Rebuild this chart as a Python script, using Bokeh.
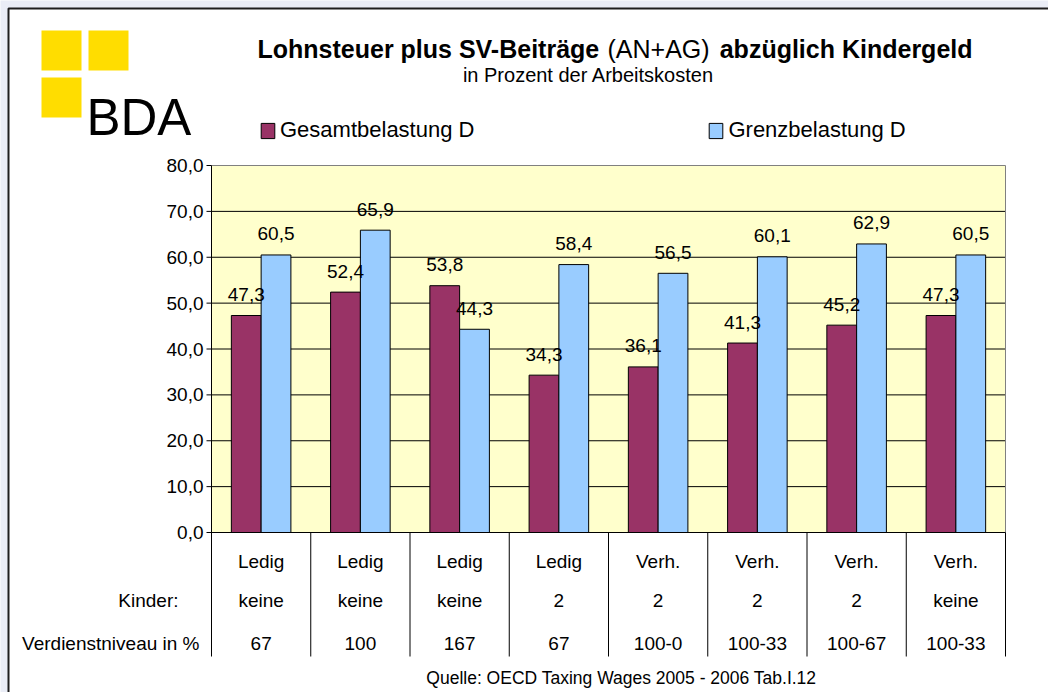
from bokeh.plotting import figure
from bokeh.models import ColumnDataSource, Label, Legend, LegendItem, Range1d
from bokeh.transform import dodge
from bokeh.core.properties import value
from bokeh.embed import file_html
from bokeh.resources import INLINE

# ---------------- data ----------------
status = ["Ledig", "Ledig", "Ledig", "Ledig", "Verh.", "Verh.", "Verh.", "Verh."]
kinder = ["keine", "keine", "keine", "2", "2", "2", "2", "keine"]
verdienst = ["67", "100", "167", "67", "100-0", "100-33", "100-67", "100-33"]
gesamt = [47.3, 52.4, 53.8, 34.3, 36.1, 41.3, 45.2, 47.3]
grenz = [60.5, 65.9, 44.3, 58.4, 56.5, 60.1, 62.9, 60.5]
series_names = ["Gesamtbelastung D", "Grenzbelastung D"]
y_ticks = [0, 10, 20, 30, 40, 50, 60, 70, 80]
y_tick_labels = ["0,0", "10,0", "20,0", "30,0", "40,0", "50,0", "60,0", "70,0", "80,0"]
row_headers = ["Kinder:", "Verdienstniveau in %"]
title_parts = ["Lohnsteuer plus SV-Beiträge", "(AN+AG)", "abzüglich Kindergeld"]
subtitle = "in Prozent der Arbeitskosten"
source_note = "Quelle: OECD Taxing Wages 2005 - 2006 Tab.I.12"
logo_text = "BDA"

# ---------------- layout ----------------
W, H = 1048, 692
PLOT_L, PLOT_R, PLOT_T, PLOT_B = 211, 1005, 165, 532   # page pixels of the value area
n = len(status)
ymax = y_ticks[-1]
SX = (PLOT_R - PLOT_L) / n          # px per category
SY = (PLOT_B - PLOT_T) / ymax       # px per unit
FONT = "Liberation Sans"
MAROON, BLUE, YELLOW_BG, LOGO_Y = "#993366", "#99ccff", "#ffffcc", "#ffdd00"
PAGE_BG = "#eaedf6"


def X(px):
    return (px - PLOT_L) / SX


def Y(py):
    return (PLOT_B - py) / SY


fmt = lambda v: ("%.1f" % v).replace(".", ",")

src = ColumnDataSource(dict(
    x=[i + 0.5 for i in range(n)],
    gesamt=gesamt, grenz=grenz,
    gl=[fmt(v) for v in gesamt], rl=[fmt(v) for v in grenz],
    status=status, kinder=kinder, verdienst=verdienst,
))

p = figure(width=W, height=H, x_range=Range1d(X(0), X(W)), y_range=Range1d(Y(H), Y(0)),
           output_backend="svg", toolbar_location=None,
           x_axis_location=None, y_axis_location=None,
           min_border=0, min_border_left=0, min_border_right=0,
           min_border_top=0, min_border_bottom=0,
           background_fill_color=PAGE_BG, border_fill_color=PAGE_BG,
           outline_line_color=None)
p.grid.visible = False

# white panel with dark border
p.quad(left=X(8), right=X(W + 20), top=Y(8), bottom=Y(H + 20),
       fill_color="white", line_color="#1e1e1e", line_width=2)

# value area background
p.quad(left=0, right=n, bottom=0, top=ymax, fill_color=YELLOW_BG, line_color=None)

# grid lines
grid_y = y_ticks[1:-1]
p.segment(x0=[0] * len(grid_y), y0=grid_y, x1=[n] * len(grid_y), y1=grid_y,
          line_color="black", line_width=1)
p.segment(x0=[0], y0=[ymax], x1=[n], y1=[ymax], line_color="#808080", line_width=1)
p.segment(x0=[n], y0=[0], x1=[n], y1=[ymax], line_color="#808080", line_width=1)

# bars
r1 = p.vbar(x=dodge("x", -0.15, range=p.x_range), top="gesamt", width=0.3,
            fill_color=MAROON, line_color="black", line_width=1, source=src)
r2 = p.vbar(x=dodge("x", 0.15, range=p.x_range), top="grenz", width=0.3,
            fill_color=BLUE, line_color="black", line_width=1, source=src)

# axis line, baseline, table dividers
TABLE_BOTTOM = Y(656)
p.segment(x0=[0], y0=[TABLE_BOTTOM], x1=[0], y1=[ymax], line_color="black", line_width=1)
p.segment(x0=[0], y0=[0], x1=[n], y1=[0], line_color="black", line_width=1)
div_x = list(range(1, n + 1))
p.segment(x0=div_x, y0=[TABLE_BOTTOM] * n, x1=div_x, y1=[0] * n,
          line_color="black", line_width=1)

# y ticks and tick labels
tick_x0 = X(PLOT_L - 5)
p.segment(x0=[tick_x0] * len(y_ticks), y0=y_ticks, x1=[0] * len(y_ticks), y1=y_ticks,
          line_color="black", line_width=1)
p.text(x=[0] * len(y_ticks), y=y_ticks, text=y_tick_labels, x_offset=-8,
       text_align="right", text_baseline="middle", text_font=value(FONT),
       text_font_size="19px", text_color="black")

# data labels
for col, ycol, off in (("gl", "gesamt", -0.15), ("rl", "grenz", 0.15)):
    p.text(x=dodge("x", off, range=p.x_range), y=ycol, text=col, source=src,
           text_align="center", text_baseline="middle", y_offset=-21,
           text_font=value(FONT), text_font_size="19px", text_color="black")

# table rows
rows_y = [Y(561), Y(600), Y(643)]
for col, yy in zip(("status", "kinder", "verdienst"), rows_y):
    p.text(x="x", y=yy, text=col, source=src, text_align="center", text_baseline="middle",
           text_font=value(FONT), text_font_size="19px", text_color="black")

p.add_layout(Label(x=X(178), y=rows_y[1], text=row_headers[0], text_align="right",
                   text_baseline="middle", text_font=FONT, text_font_size="19px",
                   text_color="black"))
p.add_layout(Label(x=X(199), y=rows_y[2], text=row_headers[1], text_align="right",
                   text_baseline="middle", text_font=FONT, text_font_size="19px",
                   text_color="black"))

# legend
legend = Legend(items=[LegendItem(label=series_names[0], renderers=[r1]),
                       LegendItem(label=series_names[1], renderers=[r2])],
                orientation="horizontal", location=(259, H - 143), padding=0, margin=0,
                spacing=233, glyph_width=17, glyph_height=19, label_standoff=4,
                label_height=19, label_text_font=FONT, label_text_font_size="22px",
                label_text_color="black",
                border_line_color=None, background_fill_alpha=0)
p.add_layout(legend)

# title (bold / normal / bold)
p.add_layout(Label(x=X(257), y=Y(48), text=title_parts[0], text_align="left",
                   text_baseline="alphabetic", text_font=FONT, text_font_size="25px",
                   text_font_style="bold", text_color="black"))
p.add_layout(Label(x=X(607), y=Y(48), text=title_parts[1], text_align="left",
                   text_baseline="alphabetic", text_font=FONT, text_font_size="25px",
                   text_color="black"))
p.add_layout(Label(x=X(972), y=Y(48), text=title_parts[2], text_align="right",
                   text_baseline="alphabetic", text_font=FONT, text_font_size="25px",
                   text_font_style="bold", text_color="black"))
p.add_layout(Label(x=X(588), y=Y(74), text=subtitle, text_align="center",
                   text_baseline="alphabetic", text_font=FONT, text_font_size="20px",
                   text_color="black"))

# source
p.add_layout(Label(x=X(621), y=Y(677), text=source_note, text_align="center",
                   text_baseline="middle", text_font=FONT, text_font_size="17.5px",
                   text_color="black"))

# logo
logo_l = [41, 88, 41]
logo_t = [30, 30, 77]
p.quad(left=[X(v) for v in logo_l], right=[X(v + 40) for v in logo_l],
       top=[Y(v) for v in logo_t], bottom=[Y(v + 40) for v in logo_t],
       fill_color=LOGO_Y, line_color=None)
p.add_layout(Label(x=X(86), y=Y(117), text=logo_text, text_align="left",
                   text_baseline="alphabetic", text_font=FONT,
                   text_font_size="51px", text_color="black"))

open("out.html", "w").write(file_html(p, INLINE))
